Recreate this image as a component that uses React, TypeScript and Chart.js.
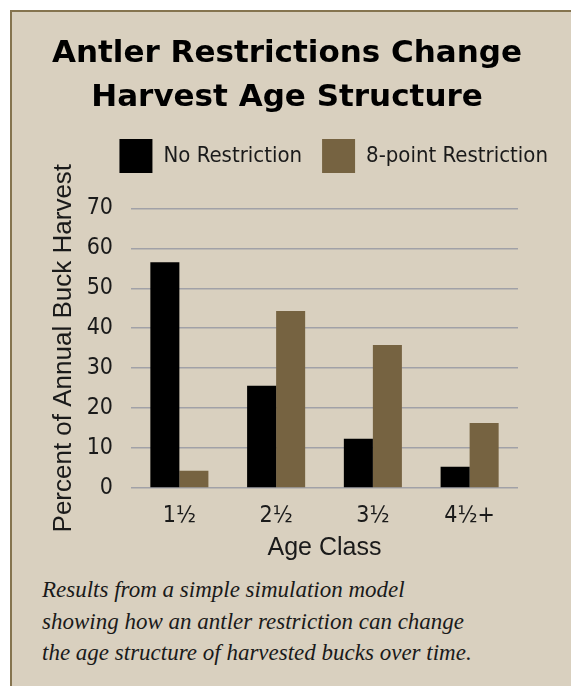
import React, { useEffect, useRef } from 'react';
import { Chart, registerables } from 'chart.js';

Chart.register(...registerables);

const titleLines = ['Antler Restrictions Change', 'Harvest Age Structure'];
const categories = ['1½', '2½', '3½', '4½+'];
const seriesNames = ['No Restriction', '8-point Restriction'];
const noRestriction = [56.5, 25.6, 12.3, 5.3];
const eightPoint = [4.3, 44.3, 35.8, 16.3];
const yTicks = [0, 10, 20, 30, 40, 50, 60, 70];
const xTitle = 'Age Class';
const yTitle = 'Percent of Annual Buck Harvest';
const captionLines = [
  'Results from a simple simulation model',
  'showing how an antler restriction can change',
  'the age structure of harvested bucks over time.',
];

const BG = '#d9d0bf';
const BORDER = '#85744f';
const BROWN = '#766341';
const GRID = '#a1a1a7';
const TEXT = '#1a1a1a';
const NARROW = '"DejaVu Sans Condensed", "Liberation Sans Narrow", sans-serif';
const SANS = '"Liberation Sans", Arial, sans-serif';

export default function App() {
  const ref = useRef<HTMLCanvasElement | null>(null);

  useEffect(() => {
    if (!ref.current) return;
    const chart = new Chart(ref.current, {
      type: 'bar',
      data: {
        labels: categories,
        datasets: [
          { label: seriesNames[0], data: noRestriction, backgroundColor: '#000000', borderWidth: 0, xAxisID: 'x', yAxisID: 'y' },
          { label: seriesNames[1], data: eightPoint, backgroundColor: BROWN, borderWidth: 0, xAxisID: 'x', yAxisID: 'y' },
        ],
      },
      options: {
        responsive: false,
        animation: false,
        events: [],
        layout: { padding: { left: 6, right: 3, top: 0, bottom: 0 } },
        datasets: { bar: { categoryPercentage: 0.6, barPercentage: 1 } },
        plugins: {
          title: {
            display: true,
            text: titleLines,
            color: '#000000',
            font: { family: '"DejaVu Sans", sans-serif', size: 31, weight: 'bold', lineHeight: 1.45 },
            padding: { top: 31, bottom: -2 },
          },
          legend: {
            display: true,
            position: 'top',
            align: 'end',
            labels: {
              boxWidth: 33,
              boxHeight: 34,
              padding: 20,
              color: TEXT,
              font: { family: NARROW, size: 22 },
            },
          },
          tooltip: { enabled: false },
        },
        scales: {
          x: {
            type: 'category',
            position: 'bottom',
            grid: { display: false },
            border: { display: false },
            ticks: { color: TEXT, font: { family: NARROW, size: 23 }, padding: 6, maxRotation: 0, autoSkip: false },
            title: { display: true, text: xTitle, color: TEXT, font: { family: SANS, size: 25 }, padding: { top: 0, bottom: 7 } },
            afterFit: (s: any) => { s.height = 82; },
          },
          y: {
            type: 'linear',
            position: 'left',
            min: 0,
            max: 70,
            afterBuildTicks: (s: any) => { s.ticks = yTicks.map((v) => ({ value: v })); },
            ticks: { color: TEXT, font: { family: NARROW, size: 23 }, padding: 18 },
            grid: { color: GRID, lineWidth: 1.5, drawTicks: false },
            border: { display: false },
            title: { display: true, text: yTitle, color: TEXT, font: { family: SANS, size: 26 }, padding: { top: 42, bottom: 0 } },
            afterFit: (s: any) => { s.width = 125; },
          },
          topGap: {
            type: 'linear',
            axis: 'x',
            position: 'top',
            display: true,
            grid: { display: false },
            border: { display: false },
            ticks: { display: false },
            afterFit: (s: any) => { s.height = 25.5; },
          },
          rightGap: {
            type: 'linear',
            axis: 'y',
            position: 'right',
            display: true,
            grid: { display: false },
            border: { display: false },
            ticks: { display: false },
            afterFit: (s: any) => { s.width = 50; },
          },
        },
      } as any,
    });
    return () => chart.destroy();
  }, []);

  return (
    <div style={{ position: 'absolute', left: 0, top: 0, width: 571, height: 686, background: '#ffffff', overflow: 'hidden' }}>
      <div
        style={{
          position: 'absolute', left: 10, top: 10, right: 0, bottom: 0,
          background: BG, borderLeft: `2px solid ${BORDER}`, borderTop: `2px solid ${BORDER}`,
        }}
      />
      <canvas
        ref={ref}
        width={571}
        height={570}
        style={{ position: 'absolute', left: 0, top: 0, width: 571, height: 570 }}
      />
      <div
        style={{
          position: 'absolute', left: 42, top: 574, color: TEXT, whiteSpace: 'nowrap',
          fontFamily: '"Liberation Serif", serif', fontStyle: 'italic', fontSize: 23, lineHeight: '31.5px',
        }}
      >
        {captionLines.map((l, i) => (<div key={i}>{l}</div>))}
      </div>
    </div>
  );
}
